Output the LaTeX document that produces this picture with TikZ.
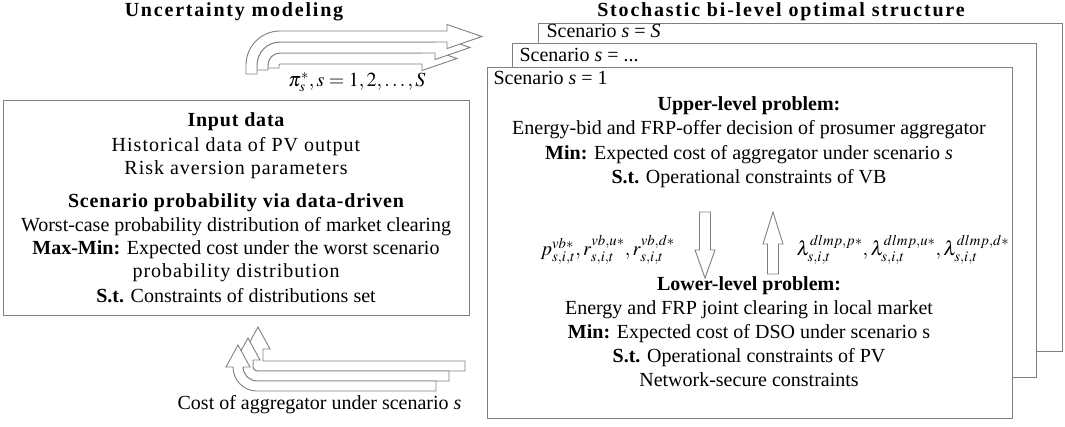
\documentclass[tikz,border=0pt]{standalone}
\usepackage{mathptmx}
\usepackage{fontspec}
\setmainfont{Liberation Serif}
\newfontfamily\titlefont[LetterSpace=9]{Liberation Serif}
\newfontfamily\headfont[LetterSpace=4]{Liberation Serif}
\newfontfamily\widefont[LetterSpace=5]{Liberation Serif}
\definecolor{linegray}{RGB}{128,128,128}
\begin{document}
\begin{tikzpicture}[x=1pt,y=-1pt,line width=1.1pt,
  box/.style={draw=linegray,fill=white,inner sep=0pt},
  blk/.style={draw=linegray,fill=white,line width=0.9pt,line join=miter},
  txt/.style={inner sep=0pt,font=\fontsize{20}{24}\selectfont,text height=14pt,text depth=4.5pt},
  mtxt/.style={inner sep=0pt,font=\fontsize{20}{24}\selectfont},
  ttl/.style={inner sep=0pt,font=\fontsize{20}{24}\selectfont\titlefont\bfseries,text height=14pt,text depth=4.5pt}]
\fill[white] (0,0) rectangle (1065,426);
\useasboundingbox (0,0) rectangle (1065,426);

% titles
\node[ttl] (t1) at (234,12) {Uncertainty modeling};
\node[ttl] (t2) at (781,12) {Stochastic bi-level optimal structure};

% left box
\node[box,anchor=north west,minimum width=466pt,minimum height=215pt] (leftbox) at (3,100) {};
\node[txt] (in) at (236,122) {\headfont\bfseries Input data};
\node[txt] (hist) at (236,147) {\widefont Historical data of PV output};
\node[txt] (risk) at (236,170) {\widefont Risk aversion parameters};
\node[txt] (scp) at (236,203) {\headfont\bfseries Scenario probability via data-driven};
\node[txt] (wc) at (236,227) {Worst-case probability distribution of market clearing};
\node[txt] (mm) at (236,250) {\textbf{Max-Min:} Expected cost under the worst scenario};
\node[txt] (pd) at (236,273) {\widefont probability distribution};
\node[txt] (st1) at (236,298) {\textbf{S.t.} Constraints of distributions set};

% stacked scenario boxes
\node[box,anchor=north west,minimum width=524pt,minimum height=328pt] (backbox) at (538,23) {};
\node[txt,anchor=west] (sS) at (546,33) {Scenario \textit{s} = \textit{S}};
\node[box,anchor=north west,minimum width=524pt,minimum height=334pt] (midbox) at (512,43) {};
\node[txt,anchor=west] (sD) at (519,57) {Scenario \textit{s} = ...};
\node[box,anchor=north west,minimum width=525pt,minimum height=351pt] (frontbox) at (487,67) {};
\node[txt,anchor=west] (s1) at (493,80) {Scenario \textit{s} = 1};

\node[txt] (up) at (749,106) {\textbf{Upper-level problem:}};
\node[txt] (eb) at (749,130) {Energy-bid and FRP-offer decision of prosumer aggregator};
\node[txt] (minu) at (749,154.5) {\textbf{Min:} Expected cost of aggregator under scenario \textit{s}};
\node[txt] (stu) at (749,179) {\textbf{S.t.} Operational constraints of VB};

\node[txt] (low) at (749,286) {\textbf{Lower-level problem:}};
\node[txt] (ej) at (749,310) {Energy and FRP joint clearing in local market};
\node[txt] (minl) at (749,334) {\textbf{Min:} Expected cost of DSO under scenario s};
\node[txt] (stl) at (749,358) {\textbf{S.t.} Operational constraints of PV};
\node[txt] (net) at (749,382) {Network-secure constraints};

\node[mtxt,anchor=west] (plab) at (540,250) {$p^{vb*}_{s,i,t},r^{vb,u*}_{s,i,t},r^{vb,d*}_{s,i,t}$};
\node[mtxt,anchor=west] (llab) at (796,250) {$\lambda^{dlmp,p*}_{s,i,t},\lambda^{dlmp,u*}_{s,i,t},\lambda^{dlmp,d*}_{s,i,t}$};

% block arrows between levels
\draw[blk] (699.5,212) -- (710.5,212) -- (710.5,250) -- (715,250) -- (705,278) -- (695,250) -- (699.5,250) -- cycle;
\draw[blk] (773,212) -- (783,244) -- (778.5,244) -- (778.5,274) -- (767.5,274) -- (767.5,244) -- (763,244) -- cycle;

% top bent arrows (pointing right)
\draw[blk] (268,68) -- (268,65) arc[start angle=180,end angle=270,radius=12] -- (422,53) -- (422,46.5) -- (457,58.5) -- (422,70.5) -- (422,64) -- (280,64) arc[start angle=270,end angle=180,radius=1] -- (279,68) -- cycle;
\draw[blk] (257,70) -- (257,65) arc[start angle=180,end angle=270,radius=23] -- (435,42) -- (435,35.5) -- (470,47.5) -- (435,59.5) -- (435,53) -- (280,53) arc[start angle=270,end angle=180,radius=12] -- (268,70) -- cycle;
\draw[blk] (246,74) -- (246,65) arc[start angle=180,end angle=270,radius=34] -- (447,31) -- (447,24.5) -- (482,36.5) -- (447,48.5) -- (447,42) -- (280,42) arc[start angle=270,end angle=180,radius=23] -- (257,74) -- cycle;
\node[mtxt] (pilab) at (357,82) {$\pi^{*}_{s}, s=1,2,\ldots,S$};

% bottom bent arrows (pointing up)
\draw[blk] (465,361) -- (465,371) -- (257,371) arc[start angle=90,end angle=180,radius=4] -- (253,349) -- (246,349) -- (258,327) -- (270,349) -- (263,349) -- (263,361) -- cycle;
\draw[blk] (449,371) -- (449,381) -- (257,381) arc[start angle=90,end angle=180,radius=14] -- (243,360) -- (236,360) -- (248,338) -- (260,360) -- (253,360) -- (253,367) arc[start angle=180,end angle=90,radius=4] -- cycle;
\draw[blk] (436,381) -- (436,391) -- (257,391) arc[start angle=90,end angle=180,radius=24] -- (226,367) -- (238,345) -- (250,367) -- (243,367) arc[start angle=180,end angle=90,radius=14] -- cycle;
\node[txt,anchor=east] (costlab) at (462,405) {Cost of aggregator under scenario \textit{s}};
\end{tikzpicture}
\end{document}
